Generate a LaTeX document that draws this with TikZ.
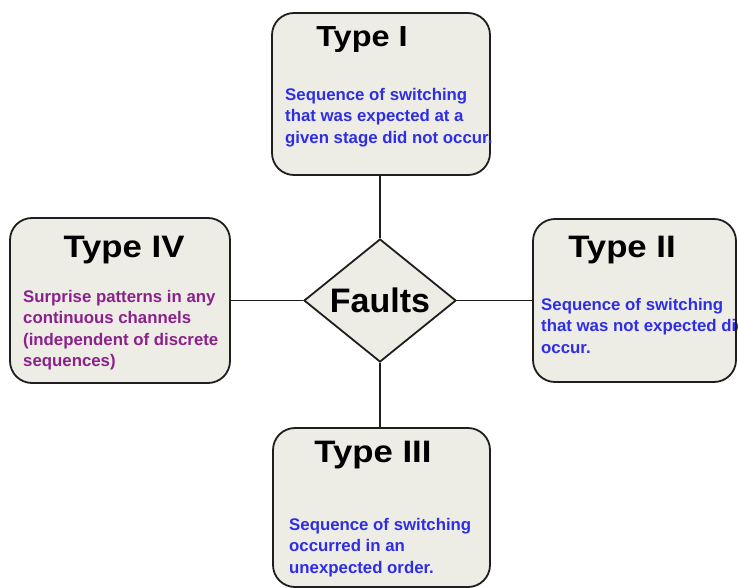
\documentclass[tikz,border=0pt]{standalone}
\usepackage{fontspec}
\setmainfont{Liberation Sans}
\newfontfamily\titlefont[FakeStretch=1.12]{Liberation Sans}
\usetikzlibrary{shapes.geometric}
\definecolor{boxfill}{HTML}{EDECE5}
\definecolor{edgecol}{HTML}{1E1E1E}
\definecolor{bodyblue}{HTML}{2E2EE6}
\definecolor{bodypurple}{HTML}{8A228A}
\begin{document}
\begin{tikzpicture}[x=1pt,y=-1pt,
  typebox/.style={draw=edgecol,line width=1.8pt,fill=boxfill,rounded corners=22pt,inner sep=0pt},
  typetitle/.style={anchor=base,inner sep=0pt,font=\titlefont\fontsize{31}{34}\selectfont\bfseries},
  bodytext/.style={anchor=north west,inner sep=0pt,align=left,font=\fontsize{16.8}{21.5}\selectfont\bfseries},
  conn/.style={draw=edgecol,line width=1.8pt}]
\useasboundingbox (0,0) rectangle (738,588);
% boxes
\node[typebox,minimum width=218pt,minimum height=162pt] (t1) at (381,94) {};
\node[typebox,minimum width=203pt,minimum height=163pt] (t2) at (634.5,300.5) {};
\node[typebox,minimum width=217pt,minimum height=159pt] (t3) at (381.5,507.5) {};
\node[typebox,minimum width=220pt,minimum height=165pt] (t4) at (120,300.5) {};
% centre diamond
\node[diamond,draw=edgecol,line width=1.8pt,fill=boxfill,inner sep=0pt,aspect=1.236,
  minimum width=152pt,minimum height=123pt,font=\fontsize{34}{36}\selectfont\bfseries] (faults) at (380,300.5) {Faults};
% connectors
\draw[conn] (faults.north) -- (faults.north |- t1.south);
\draw[conn] (faults.south) -- (faults.south |- t3.north);
\draw[conn] (t4.east) -- (faults.west);
\draw[conn] (faults.east) -- (t2.west);
% titles
\node[typetitle,font=\titlefont\fontsize{29}{32}\selectfont\bfseries] (t1title) at (362,47) {Type I};
\node[typetitle] (t2title) at (622,257) {Type II};
\node[typetitle] (t3title) at (373,462) {Type III};
\node[typetitle] (t4title) at (124,257) {Type IV};
% body texts
\node[bodytext,text=bodyblue] (t1body) at (285,88) {Sequence of switching\\that was expected at a\\given stage did not occur.};
\node[bodytext,text=bodyblue] (t2body) at (541,298) {Sequence of switching\\that was not expected did\\occur.};
\node[bodytext,text=bodyblue] (t3body) at (289,518) {Sequence of switching\\occurred in an\\unexpected order.};
\node[bodytext,text=bodypurple] (t4body) at (23,290) {Surprise patterns in any\\continuous channels\\(independent of discrete\\sequences)};
\end{tikzpicture}
\end{document}
